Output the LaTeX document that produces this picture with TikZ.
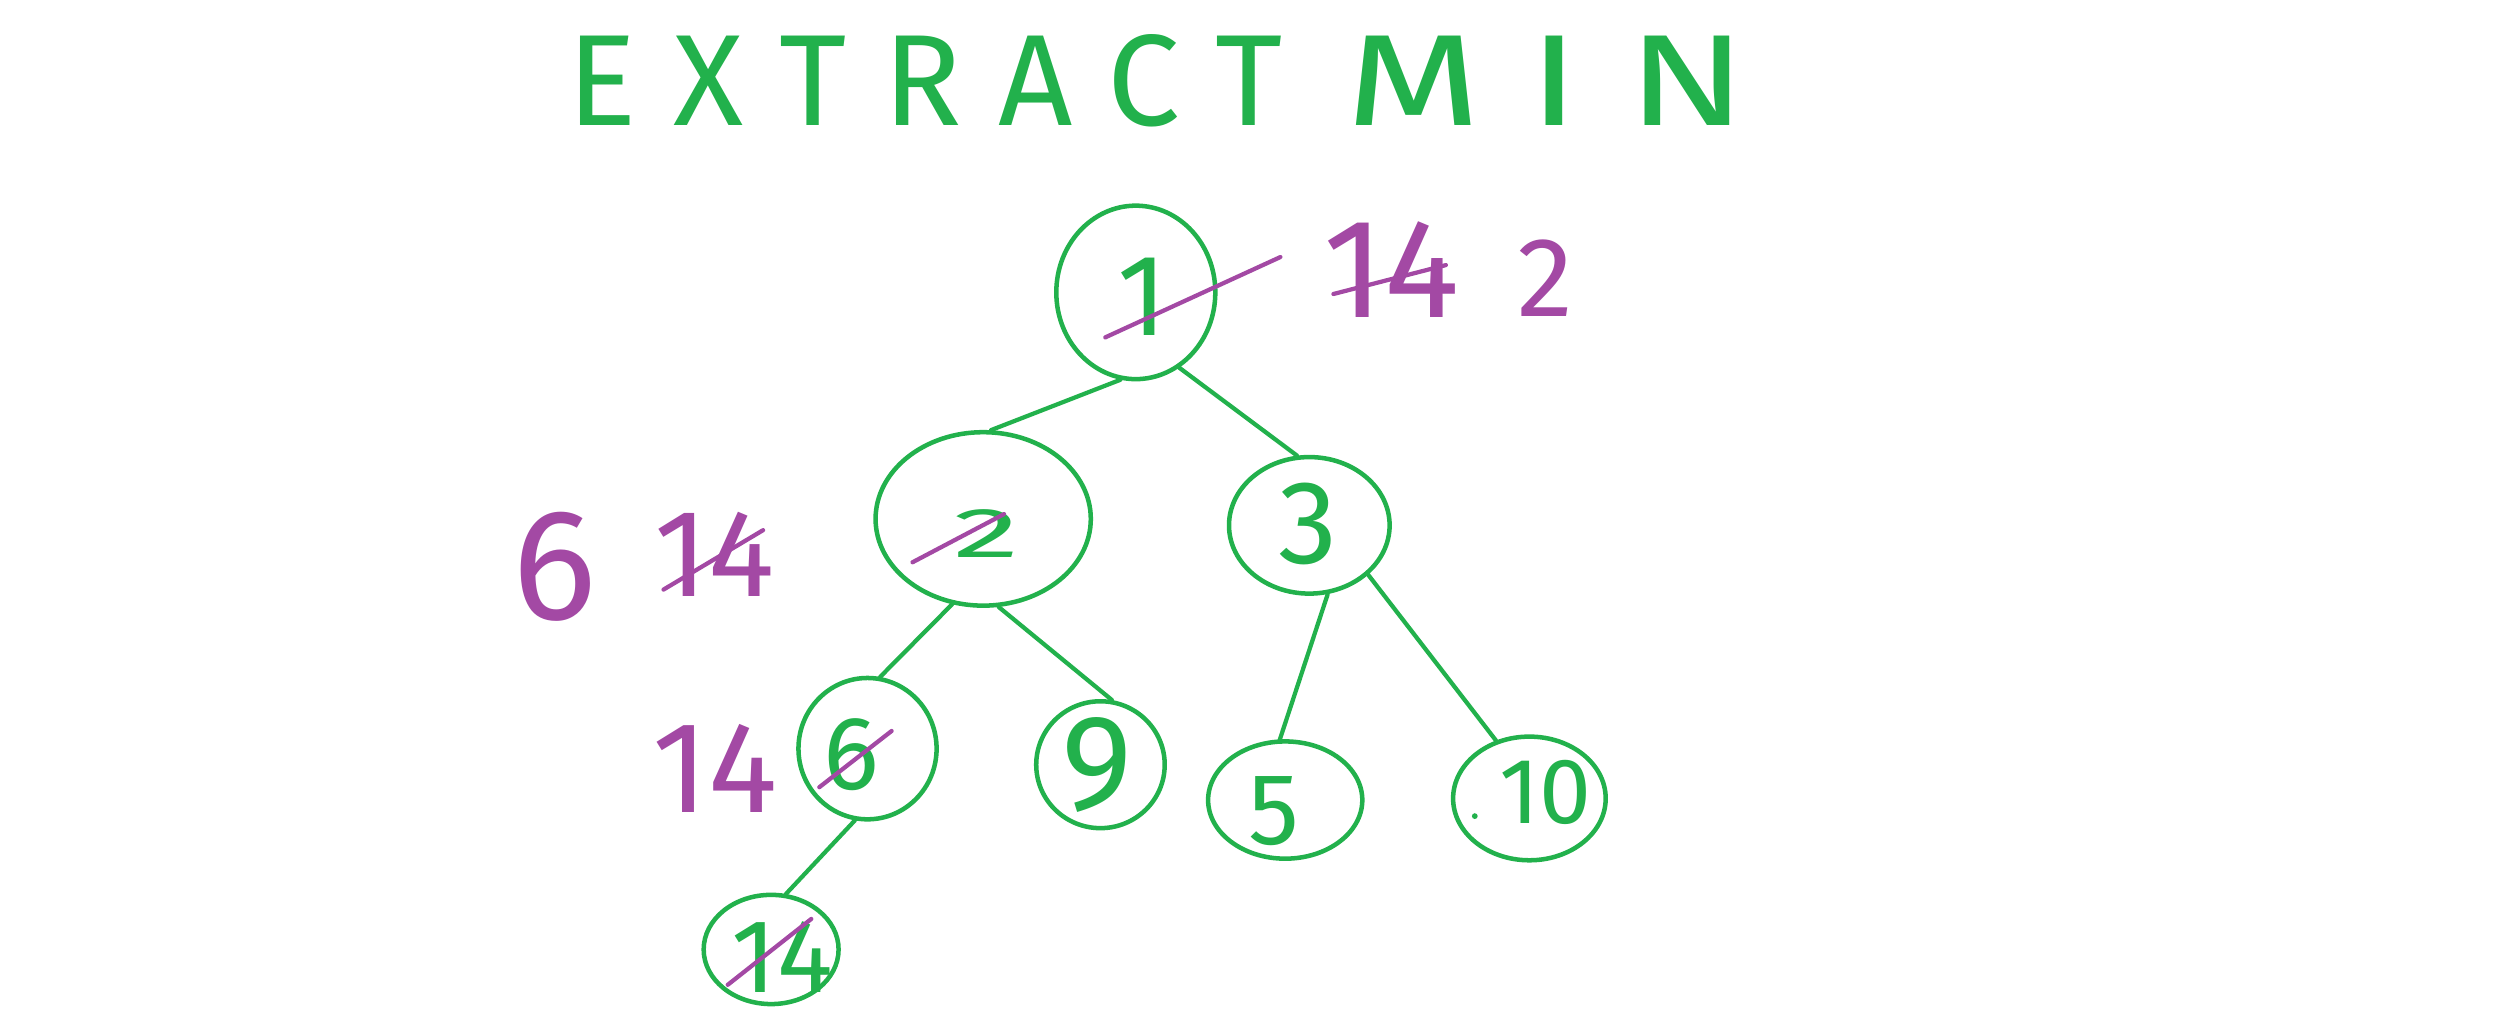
\documentclass[tikz,border=0pt]{standalone}
\usepackage{fontspec}
\newfontfamily\handfont{Fira Sans}
\usetikzlibrary{shapes.geometric,calc}
\definecolor{pg}{RGB}{34,177,76}
\definecolor{pp}{RGB}{163,73,164}
\newcommand\hsz[1]{\fontsize{#1}{#1}\selectfont}
\begin{document}
\begin{tikzpicture}[x=0.02cm,y=-0.02cm,
  vtx/.style={draw=pg, line width=1.6pt, ellipse, inner sep=0pt},
  num/.style={text=pg, font=\handfont, inner sep=0pt},
  lab/.style={text=pp, font=\handfont, inner sep=0pt},
  edge/.style={draw=pg, line width=1.5pt, line cap=round},
  strike/.style={draw=pp, line width=1.5pt, line cap=round}]
\useasboundingbox (0,0) rectangle (1568,643);
\fill[white] (0,0) rectangle (1568,643);

% title
\node[num, anchor=west] (title) at (353,50) {\hsz{46}{\addfontfeature{LetterSpace=28}EXTRACT}\hspace{0.78cm}\scalebox{1.35}[1]{\addfontfeature{LetterSpace=27}MIN}};

% vertices
\node[vtx, minimum width=1.98cm, minimum height=2.16cm] (root) at (707,182) {};
\node[vtx, minimum width=2.68cm, minimum height=2.16cm] (n2) at (612,323) {};
\node[vtx, minimum width=2.0cm, minimum height=1.7cm] (n3) at (815,327) {};
\node[vtx, minimum width=1.72cm, minimum height=1.76cm] (n6) at (540,466) {};
\node[vtx, minimum width=1.6cm, minimum height=1.58cm] (n9) at (685,476) {};
\node[vtx, minimum width=1.92cm, minimum height=1.46cm] (n5) at (800,498) {};
\node[vtx, minimum width=1.9cm, minimum height=1.54cm] (n10) at (952,497) {};
\node[vtx, minimum width=1.68cm, minimum height=1.36cm] (n14) at (480,591) {};

% numbers
\node[num] (troot) at (711,185) {\hsz{41}1};
\node[num] (tn2) at (614,332) {\scalebox{1.9}[1]{\hsz{25}2}};
\node[num] (tn3) at (814,326) {\hsz{42}3};
\node[num] (tn6) at (530,470) {\hsz{37}6};
\node[num] (tn9) at (683,476) {\hsz{48}9};
\node[num] (tn5) at (793,505) {\hsz{36}5};
\node[num] (tn10) at (962,493) {\hsz{33}10};
\node[num] (tn14) at (487,596) {\hsz{37}14};
\fill[pg] (918,508) circle (1.8);

% edges
\draw[edge] (root.-100) -- (n2.85);
\draw[edge] (root.-60) -- (n3.100);
\draw[edge] (n2.-110) -- (n6.80);
\draw[edge] (n2.-80) -- (n9.80);
\draw[edge] (n3.-75) -- (n5.95);
\draw[edge] (n3.-40) -- (n10.120);
\draw[edge] (n6.-100) -- (n14.75);

% purple labels
\node[lab] (l14a) at (866,168) {\hsz{50}14};
\node[lab] (l2a) at (962,173) {\hsz{40}2};
\node[lab] (l6b) at (345,353) {\hsz{56}6};
\node[lab] (l14b) at (445,345) {\hsz{44}14};
\node[lab] (l14c) at (445,478) {\hsz{46}14};

% strike-throughs
\draw[strike] ($(root)+(-19,28)$) -- ($(root)+(90,-22)$);
\draw[strike] ($(l14a)+(-36,15)$) -- ($(l14a)+(34,-3)$);
\draw[strike] ($(n2)+(-44,27)$) -- ($(n2)+(13,-3)$);
\draw[strike] ($(l14b)+(-32,22)$) -- ($(l14b)+(30,-15)$);
\draw[strike] ($(n6)+(-30,24)$) -- ($(n6)+(15,-11)$);
\draw[strike] ($(n14)+(-27,22)$) -- ($(n14)+(25,-19)$);
\end{tikzpicture}
\end{document}
